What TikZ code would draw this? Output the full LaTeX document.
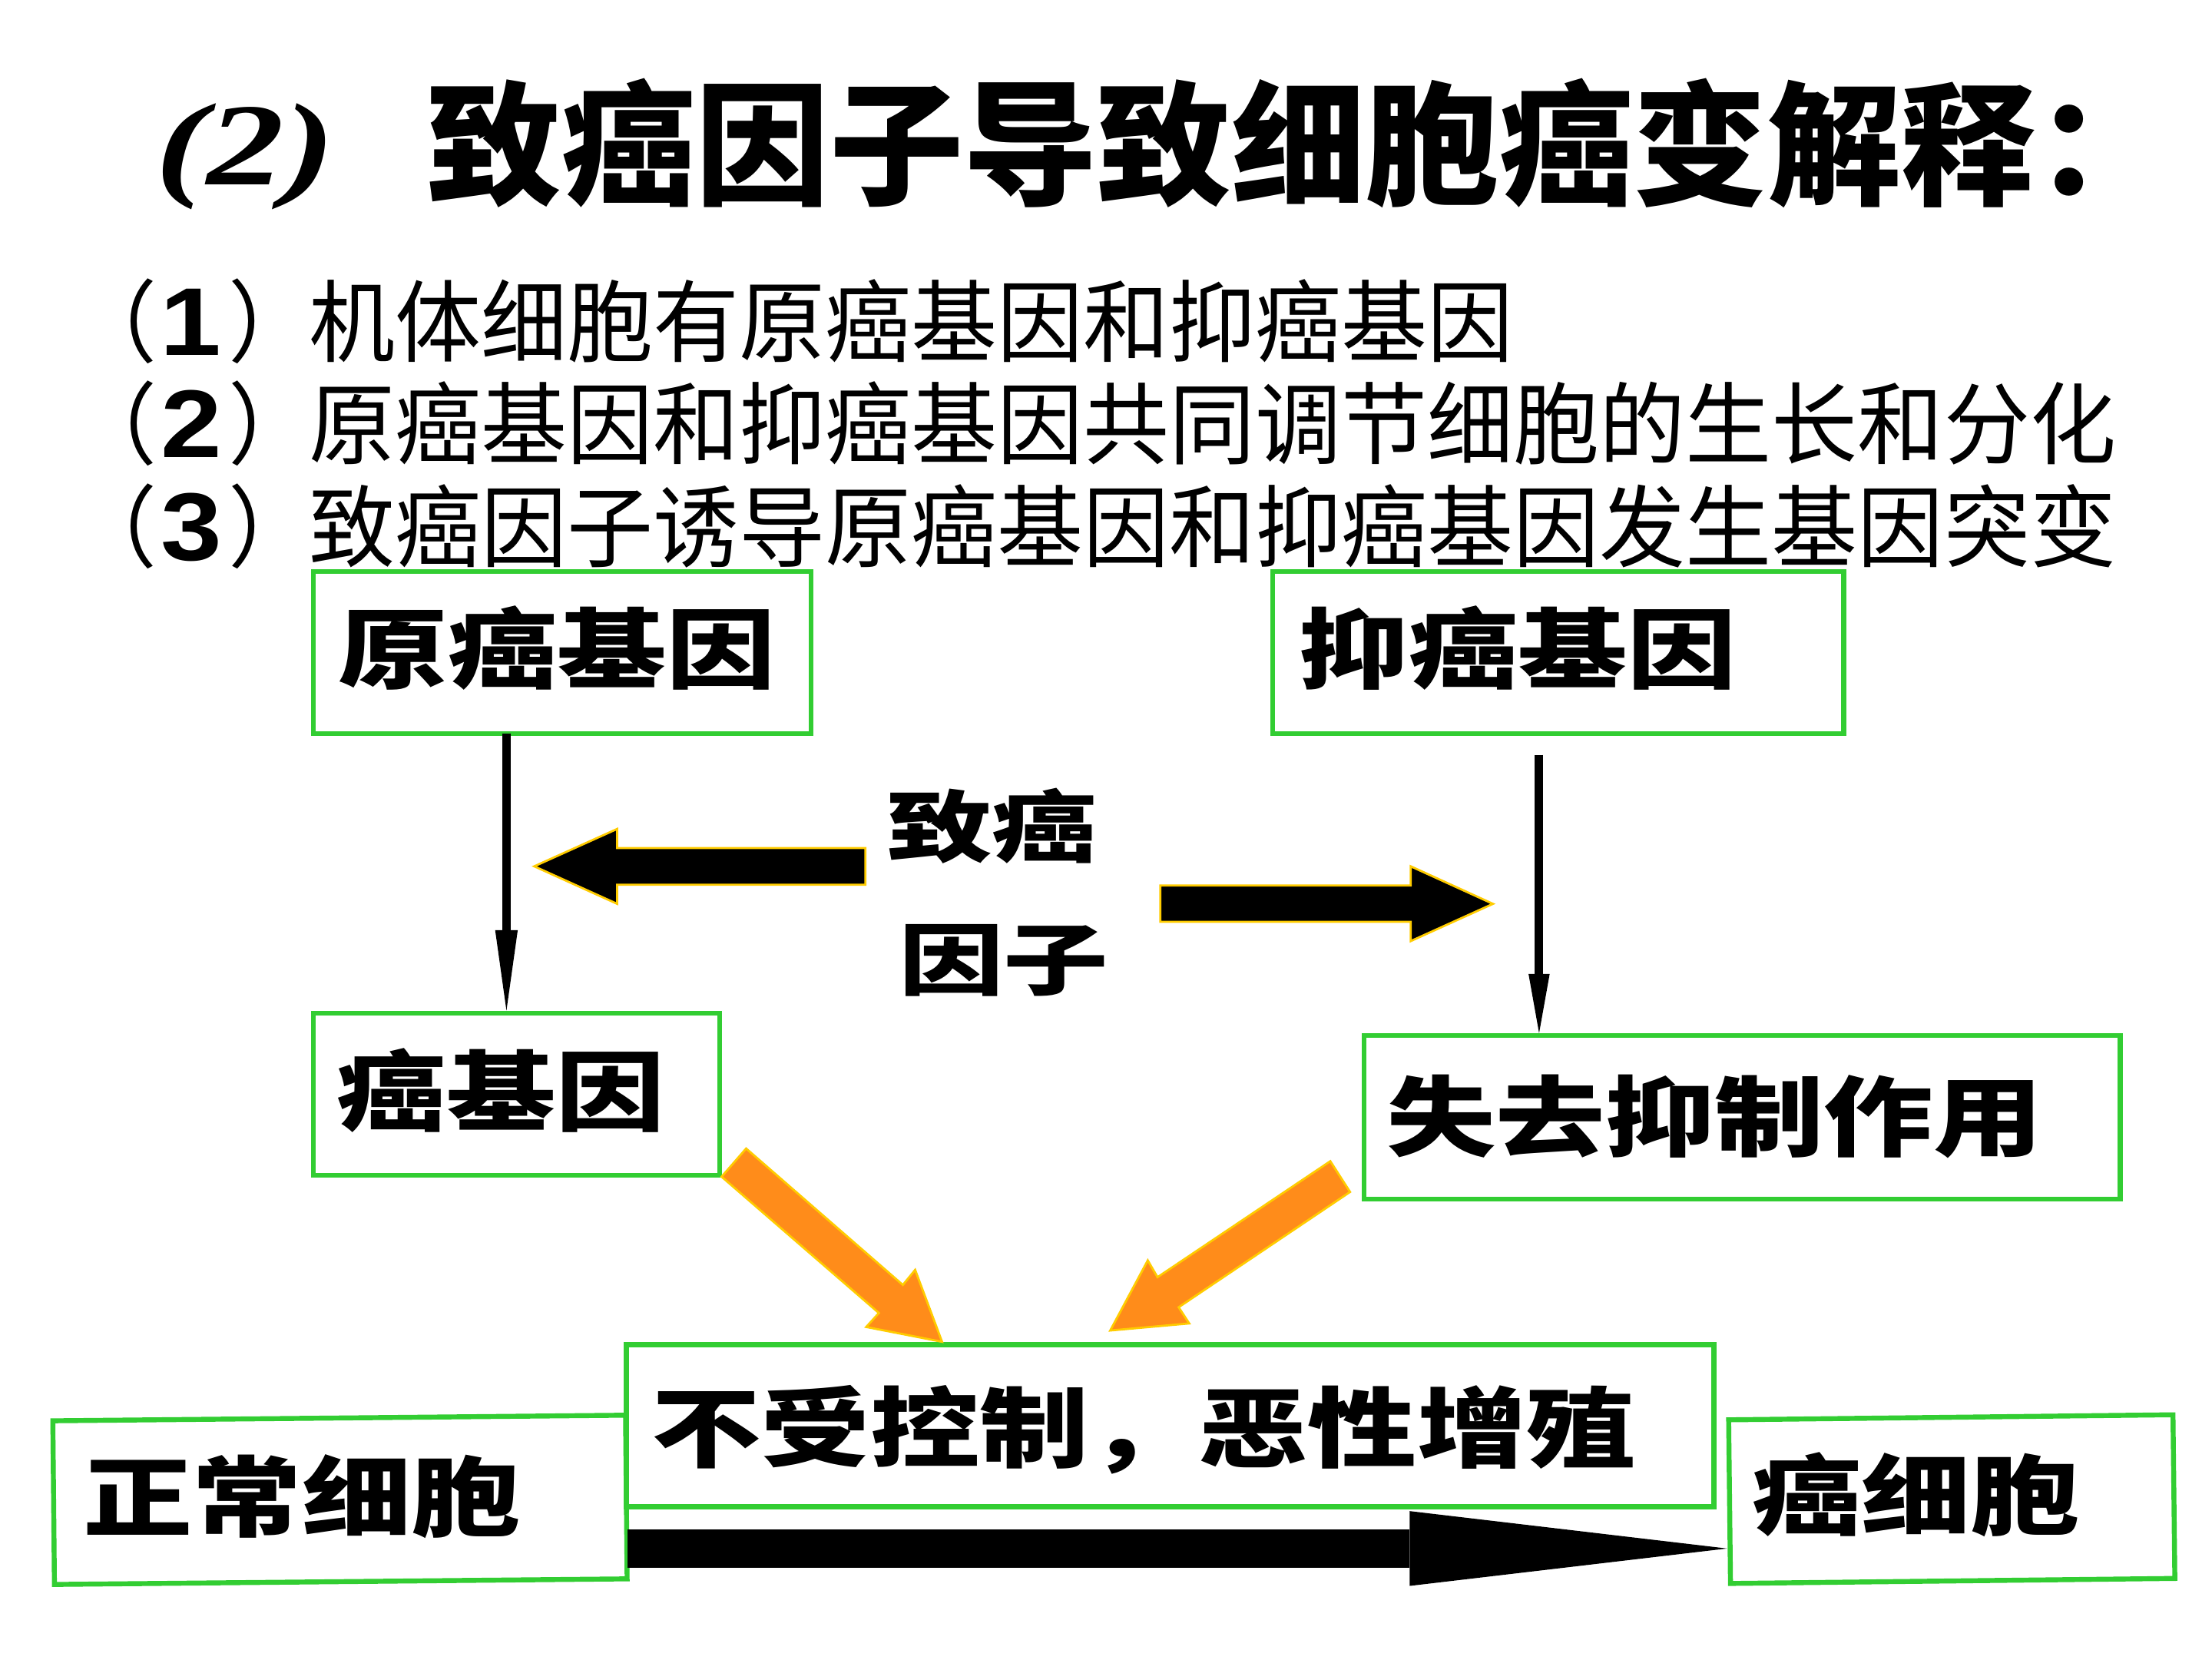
\documentclass[tikz,border=0pt]{standalone}
\usepackage{fontspec}
\usepackage{graphicx}
\newfontfamily\cjk{Noto Sans CJK SC}
\newfontfamily\latinser{Liberation Serif}
\newfontfamily\latinsans{Liberation Sans}
\usetikzlibrary{arrows.meta,calc}
\definecolor{boxgreen}{RGB}{50,205,50}
\definecolor{arrorange}{RGB}{255,140,26}
\definecolor{arryellow}{RGB}{255,204,0}
\newcommand\heavytxt[3]{\scalebox{#2}[1]{\fontsize{#1}{#1}\selectfont\cjk\bfseries #3}}
\newcommand\plaintxt[1]{\scalebox{1}[1.04]{\fontsize{61}{61}\selectfont\cjk #1}}
\newcommand\digittxt[1]{\scalebox{1.2}[1.05]{\fontsize{65}{65}\selectfont\latinsans\bfseries #1}}
\begin{document}
\begin{tikzpicture}[x=1pt,y=-1pt,
  gbox/.style={draw=boxgreen,line width=3.5pt,inner sep=0,fill=none},
  txt/.style={inner sep=0,outer sep=0,anchor=base west},
  dgt/.style={inner sep=0,outer sep=0,anchor=base},
  thinarrow/.style={line width=6pt,draw=black},
  blockarrow/.style={fill=black,draw=arryellow,line width=1.5pt,line join=miter},
  orangearrow/.style={fill=arrorange,draw=arryellow,line width=1.5pt,line join=miter}]
\useasboundingbox (0,0) rectangle (1568,1176);
\fill[white] (0,0) rectangle (1568,1176);

% title
\node[txt] (t0) at (110,131) {\scalebox{1.32}[1]{\fontsize{83}{83}\selectfont\latinser\bfseries\itshape (2)}};
\node[txt] (t1) at (303,138) {\heavytxt{95}{1}{致癌因子导致细胞癌变解释：}};

% numbered lines
\node[txt] (p1) at (50.6,252) {\plaintxt{（}};
\node[dgt] (d1) at (135,252) {\digittxt{1}};
\node[txt] (q1) at (162,252) {\plaintxt{）}};
\node[txt] (l1) at (219,252) {\plaintxt{机体细胞有原癌基因和抑癌基因}};
\node[txt] (p2) at (50.6,324) {\plaintxt{（}};
\node[dgt] (d2) at (136,324) {\digittxt{2}};
\node[txt] (q2) at (162,324) {\plaintxt{）}};
\node[txt] (l2) at (219,324) {\plaintxt{原癌基因和抑癌基因共同调节细胞的生长和分化}};
\node[txt] (p3) at (50.6,397) {\plaintxt{（}};
\node[dgt] (d3) at (136,397) {\digittxt{3}};
\node[txt] (q3) at (162,397) {\plaintxt{）}};
\node[txt] (l3) at (219,397) {\plaintxt{致癌因子诱导原癌基因和抑癌基因发生基因突变}};

% boxes
\node[gbox,minimum width=353pt,minimum height=115pt] (b1) at (398.5,462.5) {};
\node[gbox,minimum width=405pt,minimum height=115pt] (b2) at (1104.5,462.5) {};
\node[gbox,minimum width=288pt,minimum height=115pt] (b3) at (366,775.5) {};
\node[gbox,minimum width=536pt,minimum height=116pt] (b4) at (1235,792) {};
\node[gbox,minimum width=771pt,minimum height=115pt] (b5) at (829.5,1010.5) {};
\node[gbox,minimum width=406pt,minimum height=116pt,rotate=0.56] (b6) at (241,1063) {};
\node[gbox,minimum width=315pt,minimum height=116pt,rotate=0.65] (b7) at (1383.5,1062.5) {};

% box texts
\node[txt] (x1) at (240,483) {\heavytxt{62}{1.25}{原癌基因}};
\node[txt] (x2) at (921,483) {\heavytxt{62}{1.25}{抑癌基因}};
\node[txt] (x3) at (239,797) {\heavytxt{62}{1.25}{癌基因}};
\node[txt] (x4) at (983,815) {\heavytxt{62}{1.25}{失去抑制作用}};
\node[txt] (x5) at (462,1035) {\heavytxt{62}{1.25}{不受控制，恶性增殖}};
\node[txt] (x6) at (59,1084) {\heavytxt{62}{1.25}{正常细胞}};
\node[txt] (x7) at (1242,1083) {\heavytxt{62}{1.25}{癌细胞}};

% carcinogen label
\node[txt] (c1) at (629,606.5) {\heavytxt{55.5}{1.34}{致癌}};
\node[txt] (c2) at (637,701) {\heavytxt{55.5}{1.34}{因子}};

% thin vertical arrows
\coordinate (la) at (359,520);
\coordinate (ra) at (1091,535);
\draw[thinarrow,-{Triangle[length=57pt,width=16pt,line width=0pt]}] (la) -- (la |- b3.north);
\draw[thinarrow,-{Triangle[length=42pt,width=15pt,line width=0pt]}] (ra) -- (ra |- b4.north);

% block arrows from carcinogen
\draw[blockarrow] (613.5,601) -- (437.5,601) -- (437.5,587.5) -- (378.7,614) -- (437.5,640.6) -- (437.5,627) -- (613.5,627) -- cycle;
\draw[blockarrow] (822.5,627.6) -- (1000,627.6) -- (1000,614) -- (1058.3,640.6) -- (1000,667) -- (1000,653.3) -- (822.5,653.3) -- cycle;

% orange arrows
\draw[orangearrow] (528.9,814) -- (640,910.7) -- (648.7,900) -- (667.8,951) -- (614,940.5) -- (623,930.6) -- (511.5,834) -- cycle;
\draw[orangearrow] (943,823) -- (957,844.8) -- (835.5,926.5) -- (843,938) -- (787,943) -- (813.6,893.3) -- (820.5,905.2) -- cycle;

% big bottom arrow
\coordinate (bs) at (445,1097.5);
\draw[line width=27pt,-{Triangle[length=225pt,width=53pt,line width=0pt]}] (bs) -- (bs -| b7.west);
\end{tikzpicture}
\end{document}
